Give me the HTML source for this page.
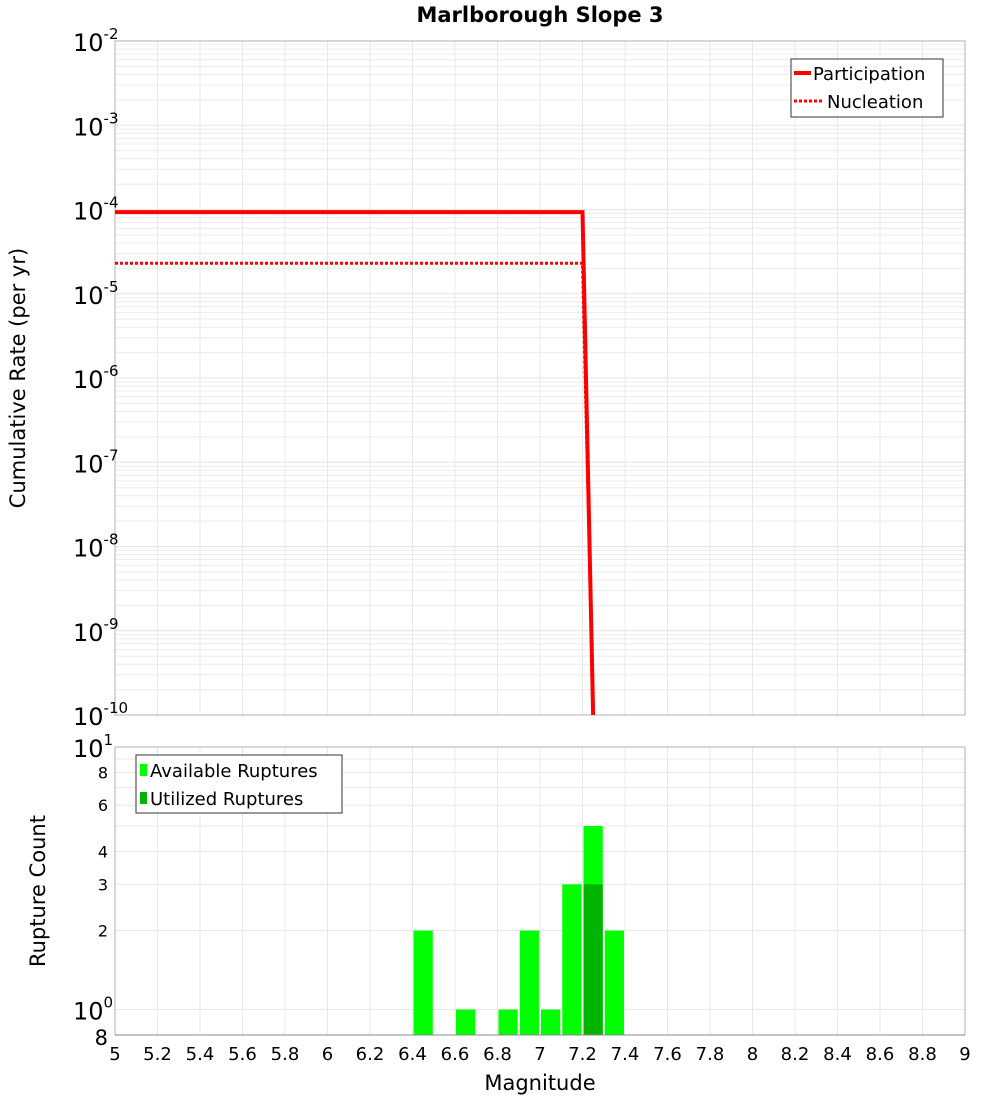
<!DOCTYPE html>
<html><head><meta charset="utf-8"><style>
body{margin:0;background:#fff;}
svg text{font-family:"DejaVu Sans","Liberation Sans",sans-serif;}
</style></head><body>
<svg id="c" width="1000" height="1100" xmlns="http://www.w3.org/2000/svg">
<text x="540" y="22" text-anchor="middle" font-size="21" font-weight="bold">Marlborough Slope 3</text>
<g id="top"></g><g id="bot"></g>
<text transform="translate(25,378) rotate(-90)" text-anchor="middle" font-size="21">Cumulative Rate (per yr)</text>
<text transform="translate(45,891) rotate(-90)" text-anchor="middle" font-size="21">Rupture Count</text>
<text x="540" y="1090" text-anchor="middle" font-size="21">Magnitude</text>
</svg>
<script>
const partMags=[5,7.2,7.25];
const partRates=[9.3e-5,9.3e-5,1e-10];
const nuclMags=[5,7.2,7.25];
const nuclRates=[2.3e-5,2.3e-5,1e-10];
const binCenters=[6.45,6.65,6.85,6.95,7.05,7.15,7.25,7.35];
const available=[2,1,1,2,1,3,5,2];
const utilized=[0,0,0,0,0,0,3,0];
const xTicks=[5,5.2,5.4,5.6,5.8,6,6.2,6.4,6.6,6.8,7,7.2,7.4,7.6,7.8,8,8.2,8.4,8.6,8.8,9];
const yExpTop=[-2,-3,-4,-5,-6,-7,-8,-9,-10];
const botTicks=[8,6,4,3,2];

const NS="http://www.w3.org/2000/svg";
const L=115,R=965,T1=41,B1=715,T2=747,B2=1035;
const X=m=>L+(m-5)/4*(R-L);
const Y1=v=>T1+(-2-Math.log10(v))/8*(B1-T1);
const Y2=v=>T2+(Math.log10(10)-Math.log10(v))/(1-Math.log10(0.8))*(B2-T2);
function mk(p,tag,a,txt){const e=document.createElementNS(NS,tag);for(const k in a)e.setAttribute(k,a[k]);if(txt!==undefined)e.textContent=txt;p.appendChild(e);return e;}
const topG=document.getElementById('top'),botG=document.getElementById('bot');

for(let d=-10;d<-2;d++)for(let k=1;k<10;k++){const y=Y1(k*Math.pow(10,d));
const g=mk(topG,'line',{x1:L,x2:R,y1:y,y2:y,stroke:k==1?'#e4e4e4':'#ececec','stroke-width':1});

}
xTicks.forEach(m=>{[[T1,B1,topG],[T2,B2,botG]].forEach(([a,b,p])=>{const g=mk(p,'line',{x1:X(m),x2:X(m),y1:a,y2:b,stroke:'#e8e8e8'});

});});
mk(topG,'rect',{x:L,y:T1,width:R-L,height:B1-T1,fill:'none',stroke:'#b0b0b0',});
yExpTop.forEach(e=>{const y=Y1(Math.pow(10,e));
const t=mk(topG,'text',{x:73,y:y+10,'font-size':24});


mk(t,'tspan',{},'10');mk(t,'tspan',{dy:-12,'font-size':15},String(e));});
function path(ms,rs){return ms.map((m,i)=>(i?'L':'M')+X(m)+','+Y1(rs[i])).join(' ');}
const pn=mk(topG,'path',{d:path(nuclMags,nuclRates),fill:'none',stroke:'#f00','stroke-width':3,'stroke-dasharray':'3,2'});


const pp=mk(topG,'path',{d:path(partMags,partRates),fill:'none',stroke:'#f00','stroke-width':4});


const lg=mk(topG,'g',{});
mk(lg,'rect',{x:791,y:59,width:152,height:58,fill:'#fff',stroke:'#333'});
mk(lg,'line',{x1:794,x2:811,y1:73,y2:73,stroke:'#f00','stroke-width':4});
mk(lg,'text',{x:813,y:80,'font-size':18,},'Participation');
mk(lg,'line',{x1:794,x2:822,y1:101,y2:101,stroke:'#f00','stroke-width':3,'stroke-dasharray':'3,2'});
mk(lg,'text',{x:827,y:108,'font-size':18,},'Nucleation');

for(let v=1;v<=10;v++){const y=Y2(v);const g=mk(botG,'line',{x1:L,x2:R,y1:y,y2:y,stroke:'#e8e8e8'});

}
const bw=0.1;
binCenters.forEach((c,i)=>{const x0=X(c-bw/2)+1,w=X(c+bw/2)-X(c-bw/2)-2;
const r=mk(botG,'rect',{x:x0,y:Y2(available[i]),width:w,height:B2-Y2(available[i]),fill:'#00ff00'});


if(utilized[i]>0){const u=mk(botG,'rect',{x:x0,y:Y2(utilized[i]),width:w,height:B2-Y2(utilized[i]),fill:'#00b400'});

}});
mk(botG,'rect',{x:L,y:T2,width:R-L,height:B2-T2,fill:'none',stroke:'#b0b0b0',});
mk(botG,'line',{x1:L,x2:R,y1:B2,y2:B2,stroke:'#888'});
botTicks.forEach(v=>{const t=mk(botG,'text',{x:108,y:Y2(v)+6,'font-size':16,'text-anchor':'end'},String(v));

});
[[10,'1',24],[1,'0',24]].forEach(([v,e,s])=>{const t=mk(botG,'text',{x:73,y:Y2(v)+10,'font-size':s});


mk(t,'tspan',{},'10');mk(t,'tspan',{dy:-12,'font-size':15},e);});
const t8=mk(botG,'text',{x:108,y:B2+10,'font-size':21,'text-anchor':'end'},'8');


xTicks.forEach(m=>{const t=mk(botG,'text',{x:X(m),y:1060,'font-size':18,'text-anchor':'middle'},String(m));

});
const lb=mk(botG,'g',{});
mk(lb,'rect',{x:136,y:755,width:206,height:58,fill:'#fff',stroke:'#333'});
mk(lb,'rect',{x:140,y:764,width:7,height:12,fill:'#00ff00'});
mk(lb,'text',{x:150,y:777,'font-size':18,},'Available Ruptures');
mk(lb,'rect',{x:140,y:792,width:7,height:12,fill:'#00b400'});
mk(lb,'text',{x:150,y:805,'font-size':18,},'Utilized Ruptures');
</script>
</body></html>
